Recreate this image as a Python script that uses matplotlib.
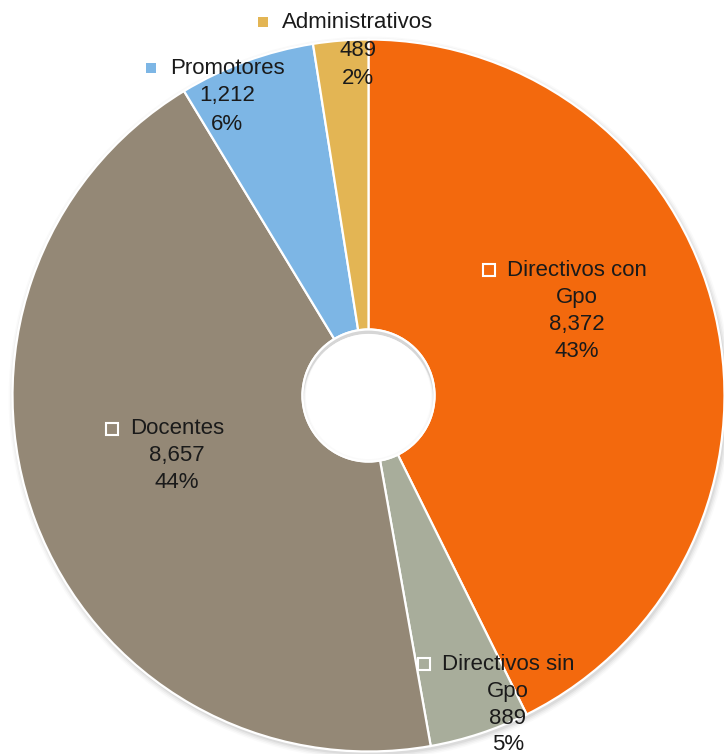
import matplotlib
matplotlib.use("Agg")
import matplotlib.pyplot as plt
from matplotlib.patches import Circle, Rectangle

# ---- data ----
categories = ["Directivos con Gpo", "Directivos sin Gpo", "Docentes", "Promotores", "Administrativos"]
values = [8372, 889, 8657, 1212, 489]
colors = ["#F3690D", "#A8AD9B", "#948876", "#7DB6E5", "#E3B554"]

# ---- layout (pixels) ----
W, H = 724, 754
CX, CY, R, R_HOLE = 368.5, 395.5, 356, 66
# label block: (center x, first-line y, line spacing, marker style, name lines)
label_layout = {
    "Directivos con Gpo": (577, 270, 27.3, "inside", ["Directivos con", "Gpo"]),
    "Directivos sin Gpo": (508, 664, 27.0, "inside", ["Directivos sin", "Gpo"]),
    "Docentes": (177, 429, 27.0, "inside", ["Docentes"]),
    "Promotores": (227, 68, 28.0, "outside", ["Promotores"]),
    "Administrativos": (358, 22, 28.0, "outside", ["Administrativos"]),
}

plt.rcParams['font.family'] = ['Liberation Sans', 'DejaVu Sans']
fig = plt.figure(figsize=(W / 100, H / 100), dpi=100)
ax = fig.add_axes([0, 0, 1, 1])


def Y(y):
    return H - y


# soft outer shadow
for i, a in enumerate([0.05, 0.04, 0.03, 0.02]):
    ax.add_patch(Circle((CX + 1.5, Y(CY) - 2.5), R + 1 + i * 1.5, color='black', alpha=a, lw=0, zorder=0))

ax.pie(values, colors=colors, startangle=90, counterclock=False,
       center=(CX, Y(CY)), radius=R, frame=True,
       wedgeprops=dict(width=R - R_HOLE, edgecolor='white', linewidth=1.6))
ax.set_xlim(0, W)
ax.set_ylim(0, H)
ax.set_aspect('equal')
ax.axis('off')

# hole with subtle inner shadow
hole = Circle((CX, Y(CY)), R_HOLE, facecolor='#d6d6d6', edgecolor='none', zorder=2)
ax.add_patch(hole)
for i, a in enumerate([0.5, 0.5, 0.6, 1.0]):
    c = Circle((CX, Y(CY) - 4 + i), R_HOLE - 1 - i * 0.8, facecolor='white', edgecolor='none', alpha=a, zorder=3)
    ax.add_patch(c)
    c.set_clip_path(hole)
ax.add_patch(Circle((CX, Y(CY)), R_HOLE, facecolor='none', edgecolor='white', linewidth=1.6, zorder=4))

total = sum(values)
fs = 16
first_texts = []
for cat, val, col in zip(categories, values, colors):
    x, y0, sp, style, name_lines = label_layout[cat]
    lines = name_lines + [f"{val:,}", f"{round(val / total * 100)}%"]
    for i, ln in enumerate(lines):
        t = ax.text(x, Y(y0 + i * sp), ln, ha='center', va='center', fontsize=fs, color='#1a1a1a', zorder=5)
        if i == 0:
            first_texts.append((t, col, style, y0))

fig.canvas.draw()
renderer = fig.canvas.get_renderer()
for t, col, style, y0 in first_texts:
    bb = t.get_window_extent(renderer)
    left = bb.x0  # display px == data px here
    if style == "inside":
        s = 12
        ax.add_patch(Rectangle((left - 12 - s, Y(y0) - s / 2), s, s, facecolor=col,
                               edgecolor='white', linewidth=1.5, zorder=6))
    else:
        s = 10
        ax.add_patch(Rectangle((left - 14 - s, Y(y0) - s / 2), s, s, facecolor=col,
                               edgecolor='none', zorder=6))

fig.savefig("out.png", dpi=100, facecolor='white')
